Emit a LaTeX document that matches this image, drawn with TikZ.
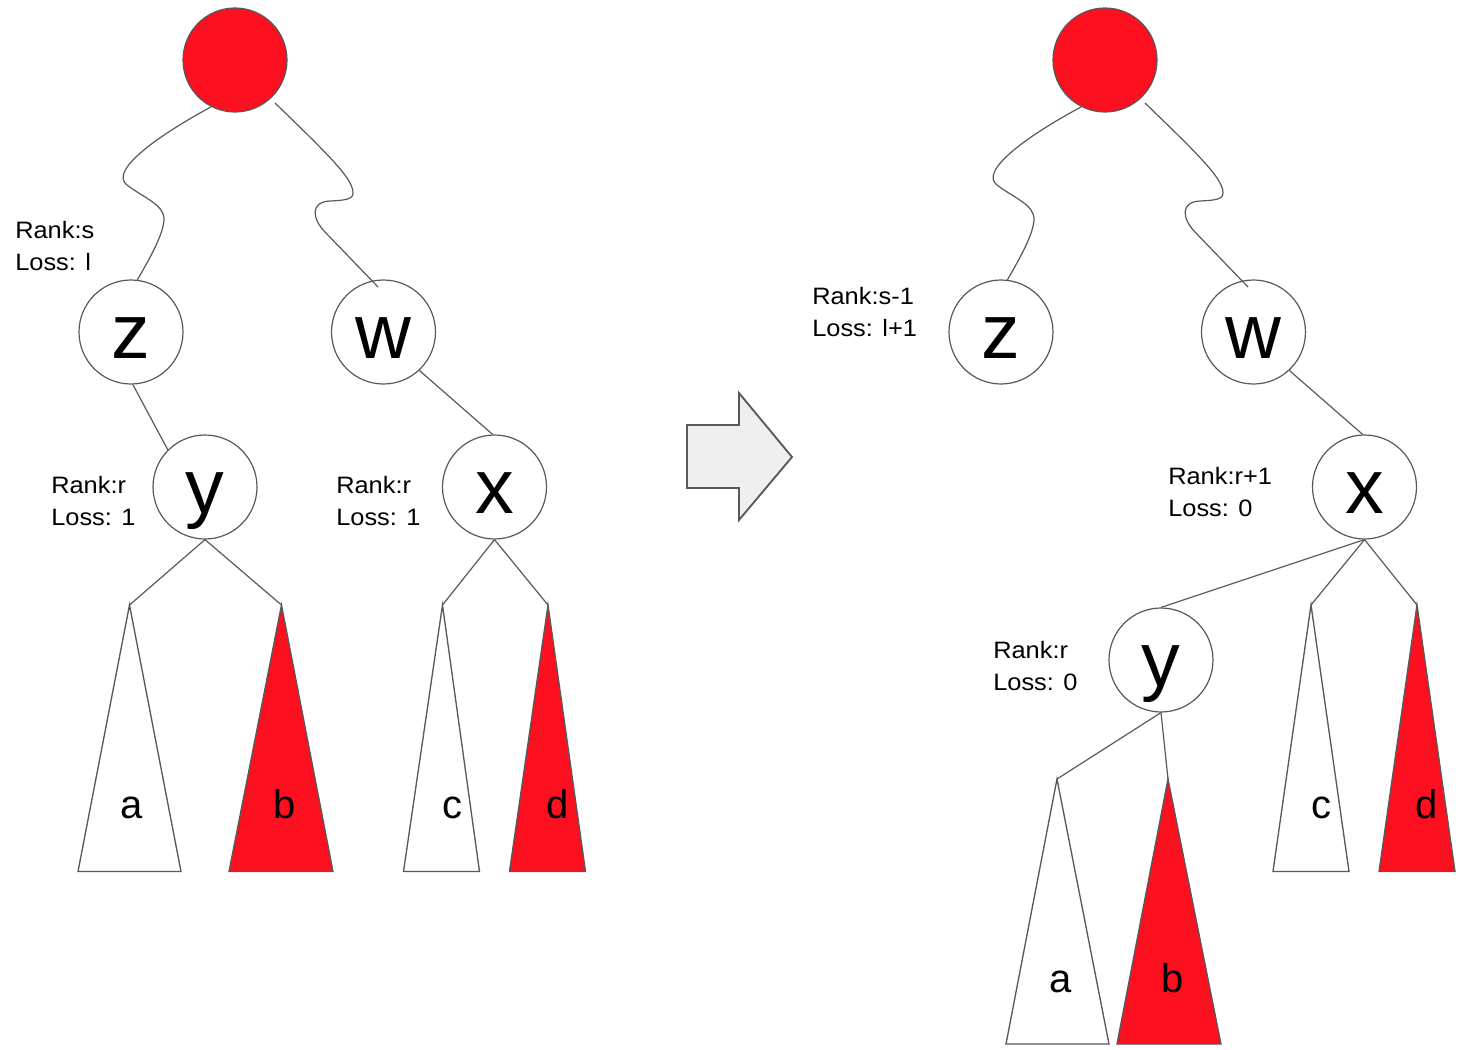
\documentclass[tikz,border=0pt]{standalone}
\usepackage{fontspec}
\setmainfont{Liberation Sans}
\newfontfamily\infofont[FakeStretch=1.07]{Liberation Sans}
\usetikzlibrary{calc}
\definecolor{rbred}{RGB}{252,15,31}
\definecolor{lgray}{RGB}{89,89,89}
\definecolor{arrowfill}{RGB}{239,239,239}
\tikzset{
 treenode/.style={circle, draw=lgray, line width=0.9pt, minimum size=78pt, inner sep=0pt, fill=white},
 rootnode/.style={treenode, fill=rbred},
 letter/.style={font=\fontsize{58}{58}\selectfont, text height=52.5pt, text depth=12.3pt, inner sep=0pt},
 edge/.style={draw=lgray, line width=0.9pt},
 subtree/.style={draw=lgray, line width=1pt, line join=miter, fill=white},
 redtree/.style={subtree, fill=rbred},
 info/.style={font=\infofont\fontsize{17.8}{24}\selectfont, align=left, anchor=north west, inner sep=0pt},
 leaflabel/.style={font=\fontsize{30}{30}\selectfont, anchor=base, inner sep=0pt},
 bigarrow/.style={draw=lgray, fill=arrowfill, line width=1.4pt, line join=miter}
}
\newcommand\lwave[3]{\draw[edge] (#1.243) .. controls ({#3+150},140) and ({#3+110},172) .. ({#3+127},185) .. controls ({#3+144},198) and ({#3+165},205) .. ({#3+164},220) .. controls ({#3+163},235) and ({#3+150},258) .. (#2.83);}
\newcommand\rwave[3]{\draw[edge] ($(#1.center)+(40,43)$) .. controls ({#3+310},137) and ({#3+345},170) .. ({#3+351},185) .. controls ({#3+357},199) and ({#3+350},200) .. ({#3+330},201) .. controls ({#3+310},202) and ({#3+312},218.5) .. ({#3+325},232) -- ($(#2.center)+(-5.5,-45)$);}
\begin{document}
\begin{tikzpicture}[x=0.75pt, y=-0.75pt]
\useasboundingbox (0,0) rectangle (1472,1050);

% ---------------- left tree ----------------
\node[rootnode] (r1) at (235,60) {};
\node[treenode] (z1) at (131,332) {};
\node[letter] (z1t) at (z1) {z};
\node[treenode] (w1) at (383.5,332) {};
\node[letter] (w1t) at (w1) {w};
\node[treenode] (y1) at (205,487) {};
\node[letter] (y1t) at (y1) {y};
\node[treenode] (x1) at (494.5,487) {};
\node[letter] (x1t) at (x1) {x};

\coordinate (ta1) at (129.5,605);
\coordinate (tb1) at (281.5,605);
\coordinate (tc1) at (442.5,605);
\coordinate (td1) at (548,605);
\draw[subtree] (ta1) -- (78,871.5) -- (181,871.5) -- cycle;
\draw[redtree] (tb1) -- (229,871.5) -- (333,871.5) -- cycle;
\draw[subtree] (tc1) -- (403.5,871.5) -- (479.5,871.5) -- cycle;
\draw[redtree] (td1) -- (509.5,871.5) -- (585.5,871.5) -- cycle;
\node[leaflabel] (la1) at (132,818) {a};
\node[leaflabel] (lb1) at (285,818) {b};
\node[leaflabel] (lc1) at (452,818) {c};
\node[leaflabel] (ld1) at (557.5,818) {d};

\lwave{r1}{z1}{0}
\rwave{r1}{w1}{0}
\draw[edge] (z1.272) -- (y1.135);
\draw[edge] (w1.313) -- (x1.92);
\draw[edge] (y1.south) -- (ta1);
\draw[edge] (y1.south) -- (tb1);
\draw[edge] (x1.south) -- (tc1);
\draw[edge] (x1.south) -- (td1);

\node[info] (i1) at (15,221) {Rank:s\\Loss: l};
\node[info] (i2) at (51,476) {Rank:r\\Loss: 1};
\node[info] (i3) at (336,476) {Rank:r\\Loss: 1};

% ---------------- arrow ----------------
\draw[bigarrow] (687,425) -- (739,425) -- (739,393) -- (792,457) -- (739,520) -- (739,488) -- (687,488) -- cycle;

% ---------------- right tree ----------------
\node[rootnode] (r2) at (1105,60) {};
\node[treenode] (z2) at (1001,332) {};
\node[letter] (z2t) at (z2) {z};
\node[treenode] (w2) at (1253.5,332) {};
\node[letter] (w2t) at (w2) {w};
\node[treenode] (x2) at (1364.5,487) {};
\node[letter] (x2t) at (x2) {x};
\node[treenode] (y2) at (1161,660) {};
\node[letter] (y2t) at (y2) {y};

\coordinate (ta2) at (1057,779);
\coordinate (tb2) at (1168,779);
\coordinate (tc2) at (1311,605);
\coordinate (td2) at (1417,605);
\draw[subtree] (ta2) -- (1006,1044) -- (1109,1044) -- cycle;
\draw[redtree] (tb2) -- (1117,1044) -- (1221,1044) -- cycle;
\draw[subtree] (tc2) -- (1273,871.5) -- (1349,871.5) -- cycle;
\draw[redtree] (td2) -- (1379,871.5) -- (1455,871.5) -- cycle;
\node[leaflabel] (la2) at (1061,992) {a};
\node[leaflabel] (lb2) at (1173,992) {b};
\node[leaflabel] (lc2) at (1321,818) {c};
\node[leaflabel] (ld2) at (1427,818) {d};

\lwave{r2}{z2}{870}
\rwave{r2}{w2}{870}
\draw[edge] (w2.313) -- (x2.92);
\draw[edge] (x2.south) -- (y2.north);
\draw[edge] (x2.south) -- (tc2);
\draw[edge] (x2.south) -- (td2);
\draw[edge] (y2.south) -- (ta2);
\draw[edge] (y2.south) -- (tb2);

\node[info] (i4) at (812,287) {Rank:s-1\\Loss: l+1};
\node[info] (i5) at (1168,467) {Rank:r+1\\Loss: 0};
\node[info] (i6) at (993,641) {Rank:r\\Loss: 0};
\end{tikzpicture}
\end{document}
